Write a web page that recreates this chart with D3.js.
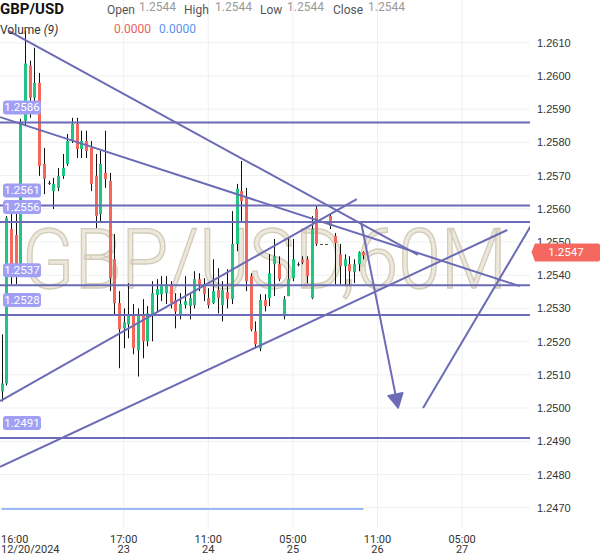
<!DOCTYPE html>
<html>
<head>
<meta charset="utf-8">
<title>GBP/USD 60M</title>
<script src="https://cdn.jsdelivr.net/npm/d3@7"></script>
<style>
    body { margin: 0; background: #fff; }
    svg { font-family: Roboto, "Noto Sans", sans-serif; display: block; }
    .grid line { stroke: #f0f0f0; stroke-width: 1; }
    .yaxis text { fill: #333; font-size: 11px; }
    .xaxis text { fill: #333; font-size: 11px; }
    .drawing { stroke: #6b6bb6; stroke-width: 2; fill: none; }
</style>
</head>
<body>
<script>
// candles, 60 minute bars, by bar index
var opens = [1.25050,1.25074,1.25539,1.25521,1.25412,1.25865,1.26031,1.25934,1.25979,1.25735,
    1.25678,1.25653,1.25663,1.25699,1.25735,1.25804,1.25856,1.25780,1.25804,1.25783,
    1.25699,1.25584,1.25708,1.25684,1.25448,1.25316,1.25240,1.25252,1.25282,1.25174,
    1.25282,1.25201,1.25282,1.25340,1.25343,1.25346,1.25373,1.25325,1.25279,1.25310,
    1.25307,1.25310,1.25388,1.25373,1.25331,1.25316,1.25355,1.25310,1.25349,1.25328,
    1.25494,1.25653,1.25632,1.25397,1.25231,1.25180,1.25325,1.25331,1.25433,1.25433,
    1.25276,1.25337,1.25391,1.25433,1.25448,1.25448,1.25331,1.25599,1.25494,1.25494,
    1.25578,1.25518,1.25463,1.25427,1.25433,1.25409,1.25433,1.25469];
var highs = [1.25222,1.25578,1.25608,1.25587,1.25871,1.26136,1.26046,1.26085,1.26009,1.25783,
    1.25684,1.25693,1.25723,1.25765,1.25825,1.25874,1.25874,1.25835,1.25835,1.25804,
    1.25765,1.25774,1.25835,1.25708,1.25524,1.25352,1.25300,1.25376,1.25313,1.25300,
    1.25328,1.25307,1.25382,1.25388,1.25397,1.25397,1.25382,1.25346,1.25346,1.25397,
    1.25346,1.25412,1.25406,1.25391,1.25361,1.25448,1.25421,1.25382,1.25418,1.25593,
    1.25675,1.25744,1.25663,1.25406,1.25261,1.25343,1.25343,1.25463,1.25509,1.25457,
    1.25337,1.25512,1.25509,1.25439,1.25457,1.25457,1.25578,1.25608,1.25494,1.25494,
    1.25587,1.25527,1.25494,1.25463,1.25457,1.25448,1.25472,1.25472];
var lows = [1.25020,1.25068,1.25373,1.25373,1.25397,1.25850,1.25874,1.25904,1.25699,1.25644,
    1.25672,1.25599,1.25653,1.25690,1.25729,1.25798,1.25753,1.25753,1.25753,1.25653,
    1.25542,1.25563,1.25663,1.25352,1.25282,1.25120,1.25180,1.25210,1.25162,1.25095,
    1.25150,1.25186,1.25201,1.25291,1.25322,1.25313,1.25300,1.25240,1.25267,1.25300,
    1.25267,1.25300,1.25352,1.25322,1.25300,1.25313,1.25285,1.25261,1.25300,1.25313,
    1.25472,1.25557,1.25352,1.25231,1.25180,1.25171,1.25291,1.25307,1.25337,1.25382,
    1.25267,1.25337,1.25382,1.25427,1.25433,1.25376,1.25328,1.25488,1.25494,1.25494,
    1.25539,1.25373,1.25373,1.25367,1.25367,1.25376,1.25412,1.25448];
var closes = [1.25074,1.25572,1.25433,1.25433,1.25856,1.26037,1.25934,1.25979,1.25729,1.25690,
    1.25678,1.25675,1.25699,1.25723,1.25804,1.25856,1.25780,1.25804,1.25774,1.25675,
    1.25578,1.25735,1.25690,1.25391,1.25316,1.25237,1.25258,1.25282,1.25180,1.25282,
    1.25201,1.25285,1.25346,1.25358,1.25373,1.25373,1.25316,1.25291,1.25313,1.25322,
    1.25331,1.25388,1.25373,1.25343,1.25310,1.25352,1.25331,1.25355,1.25328,1.25494,
    1.25660,1.25623,1.25382,1.25237,1.25192,1.25325,1.25307,1.25406,1.25457,1.25388,
    1.25328,1.25388,1.25448,1.25433,1.25439,1.25397,1.25539,1.25494,1.25494,1.25494,
    1.25548,1.25497,1.25427,1.25448,1.25412,1.25433,1.25469,1.25460];
var volumes = [0,0,0,0,0,0,0,0,0,0, 0,0,0,0,0,0,0,0,0,0, 0,0,0,0,0,0,0,0,0,0,
    0,0,0,0,0,0,0,0,0,0, 0,0,0,0,0,0,0,0,0,0, 0,0,0,0,0,0,0,0,0,0,
    0,0,0,0,0,0,0,0,0,0, 0,0,0,0,0,0,0,0];

var priceTicks = [1.2470,1.2480,1.2490,1.2500,1.2510,1.2520,1.2530,1.2540,1.2550,1.2560,1.2570,1.2580,1.2590,1.2600,1.2610];
var timeTickIndex = [0, 26, 44, 62, 80, 98];
var timeTickTop = ["16:00", "17:00", "11:00", "05:00", "11:00", "05:00"];
var timeTickBottom = ["12/20/2024", "23", "24", "25", "26", "27"];

var legendValues = [1.2544, 1.2544, 1.2544, 1.2544];
var legendNames = ["Open", "High", "Low", "Close"];
var volumeValues = [0.0000, 0.0000];

var lastPrice = 1.2547;
var levelPrices = [1.2586, 1.2561, 1.2556, 1.2537, 1.2528, 1.2491];
// trend lines: [bar index, price, bar index, price]
var trendLines = [
    [1.6, 1.26135, 88.6, 1.25461],
    [-0.3, 1.25876, 110.3, 1.25367],
    [-0.3, 1.25021, 75.6, 1.25629],
    [-0.3, 1.24823, 107.6, 1.25536],
    [89.7, 1.25000, 113.1, 1.25560]
];
var arrowLine = [76.5, 1.25560, 84.4, 1.25000];

var width = 600, height = 558, plotRight = 530, plotBottom = 528;

var x = d3.scaleLinear().domain([0, 100]).range([1.5, 471.5]);
var y = d3.scaleLinear().domain([1.2470, 1.2610]).range([507.7, 42.7]);
var vol = d3.scaleLinear().domain([0, 1]).range([509, 480]);
var fmt = d3.format(".4f");

var svg = d3.select("body").append("svg")
        .attr("width", width)
        .attr("height", height);

svg.append("defs").append("clipPath")
        .attr("id", "plot-clip")
        .append("rect")
        .attr("x", 0).attr("y", 0)
        .attr("width", plotRight).attr("height", plotBottom);

// grid
var grid = svg.append("g").attr("class", "grid");
grid.selectAll("line.h").data(priceTicks).enter().append("line")
        .attr("class", "h")
        .attr("x1", 0).attr("x2", plotRight)
        .attr("y1", function (d) { return y(d); })
        .attr("y2", function (d) { return y(d); });
grid.selectAll("line.v").data(timeTickIndex.slice(1)).enter().append("line")
        .attr("class", "v")
        .attr("x1", function (d) { return x(d); })
        .attr("x2", function (d) { return x(d); })
        .attr("y1", 0).attr("y2", plotBottom);

// watermark
svg.append("text")
        .attr("x", 22)
        .attr("y", y(1.2537) + 3)
        .attr("textLength", 485)
        .attr("lengthAdjust", "spacingAndGlyphs")
        .style("font-size", "84px")
        .style("font-weight", 300)
        .style("fill", "#ece8dd")
        .style("stroke", "#d3ccb8")
        .style("stroke-width", 1.4)
        .text("GBP/USD,60M");

var body = svg.append("g").attr("clip-path", "url(#plot-clip)");

// volume line
body.append("path")
        .datum(volumes)
        .attr("d", d3.line()
                .x(function (d, i) { return x(i); })
                .y(function (d) { return vol(d); }))
        .style("fill", "none")
        .style("stroke", "#9bbaf3")
        .style("stroke-width", 2);

// candles
var candles = body.selectAll("g.candle").data(opens).enter().append("g")
        .attr("class", "candle");

candles.append("line")
        .attr("x1", function (d, i) { return Math.round(x(i)) + 0.5; })
        .attr("x2", function (d, i) { return Math.round(x(i)) + 0.5; })
        .attr("y1", function (d, i) { return y(highs[i]); })
        .attr("y2", function (d, i) { return y(lows[i]); })
        .style("stroke", "#111")
        .style("stroke-width", 1);

candles.append("rect")
        .attr("x", function (d, i) { return Math.round(x(i)) - 1; })
        .attr("width", 3)
        .attr("y", function (d, i) { return y(Math.max(opens[i], closes[i])); })
        .attr("height", function (d, i) {
            return Math.max(1, Math.abs(y(opens[i]) - y(closes[i])));
        })
        .style("fill", function (d, i) {
            if (opens[i] === closes[i]) return "#555";
            return closes[i] > opens[i] ? "#1fc580" : "#f6675b";
        });

// horizontal levels
body.selectAll("line.level").data(levelPrices).enter().append("line")
        .attr("class", "drawing level")
        .attr("x1", 0).attr("x2", plotRight)
        .attr("y1", function (d) { return y(d); })
        .attr("y2", function (d) { return y(d); });

// trend lines
body.selectAll("line.trend").data(trendLines).enter().append("line")
        .attr("class", "drawing trend")
        .attr("x1", function (d) { return x(d[0]); })
        .attr("y1", function (d) { return y(d[1]); })
        .attr("x2", function (d) { return x(d[2]); })
        .attr("y2", function (d) { return y(d[3]); });

// arrow
var ax1 = x(arrowLine[0]), ay1 = y(arrowLine[1]),
    ax2 = x(arrowLine[2]), ay2 = y(arrowLine[3]);
var ang = Math.atan2(ay2 - ay1, ax2 - ax1), headLen = 14, headHalf = 7.5;
var bx = ax2 - headLen * Math.cos(ang), by = ay2 - headLen * Math.sin(ang);
body.append("line")
        .attr("class", "drawing")
        .attr("x1", ax1).attr("y1", ay1)
        .attr("x2", bx).attr("y2", by);
body.append("path")
        .attr("d", "M" + ax2 + "," + ay2
                + "L" + (bx + headHalf * Math.sin(ang)) + "," + (by - headHalf * Math.cos(ang))
                + "L" + (bx - headHalf * Math.sin(ang)) + "," + (by + headHalf * Math.cos(ang)) + "Z")
        .style("fill", "#6b6bb6")
        .style("stroke", "#6b6bb6")
        .style("stroke-width", 1.5)
        .style("stroke-linejoin", "round");

// level badges
var badges = svg.selectAll("g.badge").data(levelPrices).enter().append("g")
        .attr("class", "badge")
        .attr("transform", function (d) { return "translate(3," + (y(d) - 22) + ")"; });
badges.append("rect")
        .attr("width", 38).attr("height", 14).attr("rx", 3)
        .style("fill", "#a09ff4");
badges.append("text")
        .attr("x", 19).attr("y", 11)
        .attr("text-anchor", "middle")
        .style("fill", "#fff")
        .style("font-size", "11.5px")
        .text(function (d) { return fmt(d); });

// right axis
var yAxis = d3.axisRight(y)
        .tickValues(priceTicks)
        .tickFormat(fmt)
        .tickSize(0)
        .tickPadding(7);
svg.append("g")
        .attr("class", "yaxis")
        .attr("transform", "translate(" + plotRight + ",0)")
        .call(yAxis)
        .call(function (g) { g.select(".domain").remove(); })
        .selectAll("text").style("font-family", null);

// last price marker
var ly = y(lastPrice);
svg.append("path")
        .attr("d", "M531.5," + ly + "L535," + (ly - 8.5) + "L598," + (ly - 8.5)
                + "Q600," + (ly - 8.5) + " 600," + (ly - 6.5) + "L600," + (ly + 7.5)
                + "Q600," + (ly + 9.5) + " 598," + (ly + 9.5) + "L535," + (ly + 9.5) + "Z")
        .style("fill", "#f4685f");
svg.append("text")
        .attr("x", 566).attr("y", ly + 4)
        .attr("text-anchor", "middle")
        .style("fill", "#fff")
        .style("font-size", "11.5px")
        .text(fmt(lastPrice));

// time axis
var xAxisG = svg.append("g").attr("class", "xaxis");
var tl = xAxisG.selectAll("text").data(timeTickIndex).enter().append("text")
        .attr("x", function (d, i) { return i === 0 ? 1 : x(d); })
        .attr("text-anchor", function (d, i) { return i === 0 ? "start" : "middle"; });
tl.append("tspan")
        .attr("y", 543)
        .attr("x", function (d, i) { return i === 0 ? 1 : x(d); })
        .text(function (d, i) { return timeTickTop[i]; });
tl.append("tspan")
        .attr("y", 553)
        .attr("x", function (d, i) { return i === 0 ? 1 : x(d); })
        .text(function (d, i) { return timeTickBottom[i]; });

// header legend
svg.append("text")
        .attr("x", 0).attr("y", 14)
        .style("font-size", "15px").style("font-weight", "bold").style("fill", "#111")
        .text("GBP/USD");

var labelX = [107, 184, 260, 333], valueX = [139, 215, 287, 368];
legendNames.forEach(function (name, i) {
    svg.append("text").attr("x", labelX[i]).attr("y", 14)
            .style("font-size", "12px").style("fill", "#555").text(name);
    svg.append("text").attr("x", valueX[i]).attr("y", 11)
            .style("font-size", "12px").style("fill", "#999").text(fmt(legendValues[i]));
});

var volText = svg.append("text").attr("x", 0).attr("y", 34)
        .style("font-size", "12px").style("fill", "#333");
volText.append("tspan").text("Volume ");
volText.append("tspan").style("font-style", "italic").text("(9)");

svg.append("text").attr("x", 114).attr("y", 33)
        .style("font-size", "12px").style("fill", "#e8625e").text(fmt(volumeValues[0]));
svg.append("text").attr("x", 159).attr("y", 33)
        .style("font-size", "12px").style("fill", "#5b93ef").text(fmt(volumeValues[1]));
</script>
</body>
</html>
